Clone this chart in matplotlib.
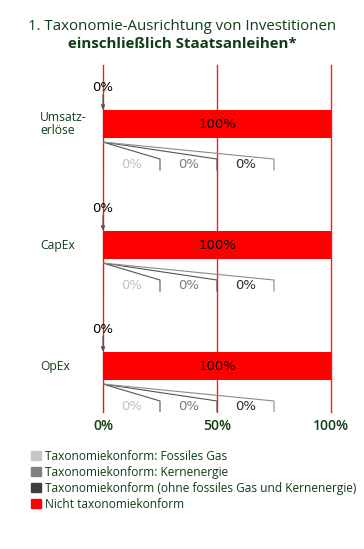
import matplotlib
matplotlib.use("Agg")
import matplotlib.pyplot as plt
from matplotlib.patches import Patch

# data
categories = ["Umsatz-\nerlöse", "CapEx", "OpEx"]
gas = [0, 0, 0]          # Taxonomiekonform: Fossiles Gas
nuclear = [0, 0, 0]      # Taxonomiekonform: Kernenergie
aligned = [0, 0, 0]      # Taxonomiekonform (ohne fossiles Gas und Kernenergie)
not_aligned = [100, 100, 100]
xticks = [0, 50, 100]
xticklabels = ["0%", "50%", "100%"]

green = "#0f3d14"
seg_colors = ["#c8c8c8", "#808080", "#404040"]
label_colors = ["#c0c0c0", "#7a7a7a", "#2a2a2a"]
line_colors = ["#555555", "#555555", "#8a8a8a"]
red = "#ff0000"
FONT = "Open Sans"

fig = plt.figure(figsize=(3.64, 5.49), dpi=100)
ax = fig.add_axes([103 / 364, 1 - 412 / 549, 228 / 364, 347 / 549])

ypos = list(range(len(categories)))
bh = 0.23

for x in xticks:
    ax.axvline(x, color="#ff1a1a", lw=1.0, zorder=0, clip_on=False)

for i, y in enumerate(ypos):
    left = 0
    segs = [gas[i], nuclear[i], aligned[i], not_aligned[i]]
    cols = seg_colors + [red]
    for v, c in zip(segs, cols):
        if v > 0:
            ax.barh(y, v, left=left, height=bh, color=c, zorder=2)
        left += v
    # label inside the red bar
    ax.text(sum(segs[:3]) + not_aligned[i] / 2, y, f"{not_aligned[i]}%",
            ha="center", va="center", fontsize=9.5, color="black", zorder=3)
    # total aligned above
    total = gas[i] + nuclear[i] + aligned[i]
    ax.text(total, y - 0.306, f"{total}%", ha="center", va="center",
            fontsize=9.5, color="black")
    ax.annotate("", xy=(total, y - bh / 2 - 0.005), xytext=(total, y - 0.245),
                arrowprops=dict(arrowstyle="-|>", color="#555555", lw=0.8,
                                mutation_scale=6, shrinkA=0, shrinkB=0))
    # callouts for small segments below
    ax.plot([0, 0], [y + bh / 2, y + 0.38], color="#555555", lw=0.8, zorder=3)
    pos = 0
    for k, v in enumerate([gas[i], nuclear[i], aligned[i]]):
        end = 25 * (k + 1)
        ax.plot([pos + v / 2, end, end], [y + 0.149, y + 0.289, y + 0.38],
                color=line_colors[k], lw=0.8, zorder=3)
        ax.text(end - 12.5, y + 0.335, f"{v}%", ha="center", va="center",
                fontsize=9.5, color=label_colors[k])
        pos += v
    # category label, left aligned
    ax.text(-63 / 2.28, y, categories[i], ha="left", va="center", ma="left",
            fontsize=8.7, color=green, family=FONT, fontweight="medium",
            linespacing=1.05)

ax.set_xlim(0, 100)
ax.set_ylim(2.38, -0.488)
ax.set_xticks(xticks)
ax.set_xticklabels(xticklabels, fontsize=10, color=green, family=FONT,
                   fontweight="semibold")
ax.set_yticks([])
ax.tick_params(length=0)
ax.tick_params(axis="x", pad=5)
for s in ax.spines.values():
    s.set_visible(False)

fig.text(0.5, 1 - 27 / 549, "1. Taxonomie-Ausrichtung von Investitionen",
         ha="center", va="center", fontsize=10.8, color=green, family=FONT)
fig.text(0.5, 1 - 44 / 549, "einschließlich Staatsanleihen*",
         ha="center", va="center", fontsize=10.8, color=green, family=FONT,
         fontweight="bold")

handles = [Patch(color=seg_colors[0], label="Taxonomiekonform: Fossiles Gas"),
           Patch(color=seg_colors[1], label="Taxonomiekonform: Kernenergie"),
           Patch(color=seg_colors[2], label="Taxonomiekonform (ohne fossiles Gas und Kernenergie)"),
           Patch(color=red, label="Nicht taxonomiekonform")]
leg = fig.legend(handles=handles, loc="upper left", bbox_to_anchor=(31 / 364, 1 - 450 / 549),
                 frameon=False, handlelength=0.8, handleheight=0.8,
                 handletextpad=0.4, labelspacing=0.25, borderpad=0, borderaxespad=0,
                 prop={"family": FONT, "size": 8.6})
for t in leg.get_texts():
    t.set_color(green)

fig.savefig("out.png", dpi=100)
